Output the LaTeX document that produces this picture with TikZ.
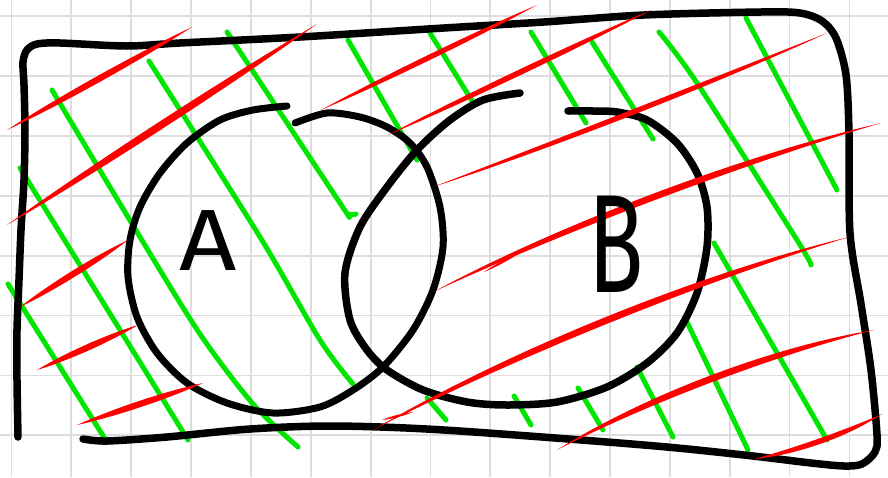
\documentclass[tikz,border=0pt]{standalone}
\usepackage{fontspec}
\usepackage{tikz}
\usetikzlibrary{calc}
\newfontfamily\sketchfont{Fira Sans}

\definecolor{gridgray}{RGB}{221,221,221}
\definecolor{hatchgreen}{RGB}{0,230,0}
\definecolor{hatchred}{RGB}{255,0,0}

% tapered red stroke: from, to, offset of upper and lower edge
\newcommand{\brush}[4]{%
  \fill[hatchred] #1 .. controls ($#1!.3!#2!#3!90:#2$) and ($#1!.7!#2!#3!90:#2$) .. #2
    .. controls ($#1!.7!#2!#4!90:#2$) and ($#1!.3!#2!#4!90:#2$) .. #1 -- cycle;}

\begin{document}
\begin{tikzpicture}[x=1pt, y=-1pt,
    gridline/.style={draw=gridgray, line width=1.8pt},
    hatchg/.style={draw=hatchgreen, line width=5pt, line cap=round, line join=round},
    pen/.style={line width=7.5pt, line cap=round, line join=round},
    letter/.style={inner sep=0pt, text=black}]
  \fill[white] (0,0) rectangle (888,477);
  \useasboundingbox (0,0) rectangle (888,477);
  % paper grid
  \foreach \i in {0,...,14}
    \draw[gridline] ({11.5+59.85*\i},0) -- ++(0,477);
  \foreach \j in {0,...,7}
    \draw[gridline] (0,{16+59.9*\j}) -- ++(888,0);
  % green hatching: outside B
  \draw[hatchg] (8,284) -- (107,442);
  \draw[hatchg] (20,168) -- (188,440);
  \draw[hatchg] plot[smooth] coordinates {(52,90) (140,237) (200,334) (253,404) (298,447)};
  \draw[hatchg] plot[smooth] coordinates {(149,61) (260,237) (320,340) (353,384)};
  \draw[hatchg] plot[smooth] coordinates {(227,32) (340,203) (348,214) (356,214)};
  \draw[hatchg] (348,40) -- (417,160);
  \draw[hatchg] (430,33) -- (474,104);
  \draw[hatchg] (531,32) -- (586,123);
  \draw[hatchg] (592,42) -- (653,139);
  \draw[hatchg] plot[smooth] coordinates {(659,32) (697,83) (797,240) (811,265)};
  \draw[hatchg] (746,18) -- (837,190);
  \draw[hatchg] (714,243) -- (827,440);
  \draw[hatchg] (686,320) -- (748,450);
  \draw[hatchg] (637,367) -- (673,437);
  \draw[hatchg] (578,388) -- (603,430);
  \draw[hatchg] (514,396) -- (531,425);
  \draw[hatchg] (427,398) -- (446,420);
  % universe
  \draw[pen] plot[smooth, tension=0.5] coordinates {(18,437) (17,380) (17,330) (19,280)
    (21,230) (24,180) (25,130) (24,85) (23,62) (27,50) (37,44) (60,43) (127,46) (180,43)
    (300,37) (444,28) (544,22) (644,15) (761,12) (800,13) (822,21) (836,38) (846,75)
    (849,133) (850,233) (861,304) (871,370) (877,435) (875,452) (862,464) (844,466)
    (811,463) (744,455) (644,445) (444,430) (333,426) (250,429) (167,437) (107,441) (83,439)};
  % set A
  \draw[pen, line width=7pt] plot[smooth] coordinates {(287,106) (253,110) (220,120)
    (187,143) (160,173) (140,207) (130,240) (128,277) (137,317) (157,353) (187,383)
    (227,403) (273,413) (320,407) (353,390) (383,367) (413,330) (433,290) (443,247)
    (440,207) (427,167) (410,143) (387,127) (360,117) (327,113) (295,123)};
  % set B
  \draw[pen, line width=7.5pt] plot[smooth] coordinates {(520,93) (483,100) (450,120)
    (417,150) (387,187) (360,227) (345,273) (350,320) (367,350) (387,370) (423,390)
    (467,402) (507,405) (557,402) (607,387) (647,363) (677,333) (697,293) (707,247)
    (707,207) (697,173) (677,143) (647,120) (617,112) (593,111) (568,111)};
  % red hatching: outside A
  \brush{(7,130)}{(192,27)}{4.2pt}{-4.2pt}
  \brush{(7,225)}{(317,24)}{5pt}{-5pt}
  \brush{(321,110)}{(537,5)}{3.5pt}{-3.5pt}
  \brush{(388,135)}{(651,10)}{3.7pt}{-3.7pt}
  \brush{(433,187)}{(827,33)}{-0.5pt}{-7.5pt}
  \brush{(433,292)}{(881,123)}{19pt}{10.3pt}
  \brush{(484,272)}{(521,252)}{1.5pt}{-1.5pt}
  \brush{(373,430)}{(849,237)}{23pt}{14pt}
  \brush{(382,420)}{(413,412)}{1.5pt}{-1.5pt}
  \brush{(557,450)}{(874,330)}{20.5pt}{11.5pt}
  \brush{(754,459)}{(882,414)}{-3pt}{-10.3pt}
  \brush{(20,307)}{(128,240)}{4.2pt}{-4.2pt}
  \brush{(37,370)}{(138,325)}{4.2pt}{-4.2pt}
  \brush{(77,425)}{(203,383)}{4.2pt}{-4.2pt}
  % labels
  \node[letter, font=\sketchfont\fontsize{87}{87}\selectfont, xscale=1.15] (labA) at (208,241) {A};
  \node[letter, font=\sketchfont\fontsize{140}{140}\selectfont, xscale=0.65] (labB) at (616,244) {B};
\end{tikzpicture}
\end{document}
